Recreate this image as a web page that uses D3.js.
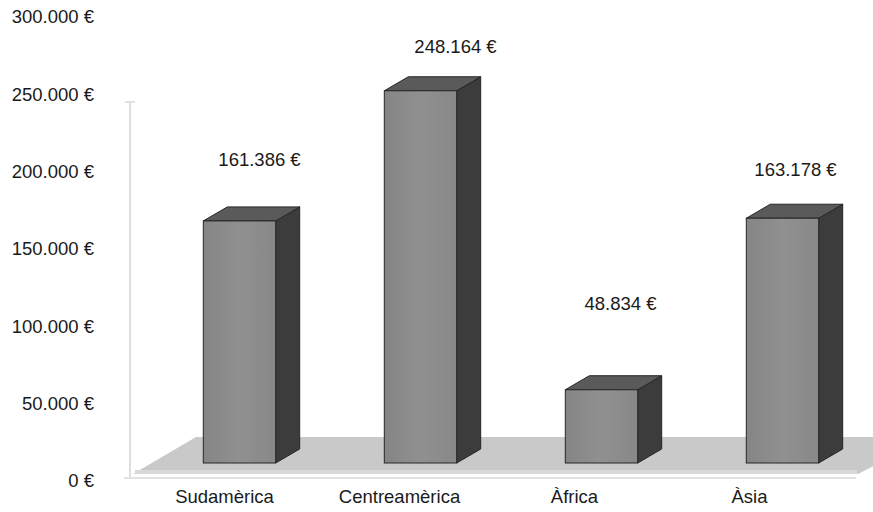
<!DOCTYPE html>
<html>
<head>
<meta charset="utf-8">
<script src="https://cdnjs.cloudflare.com/ajax/libs/d3/7.8.5/d3.min.js"></script>
<style>
  body { margin: 0; background: #fff; }
  svg text { font-family: "Liberation Sans", Arial, sans-serif; }
</style>
</head>
<body>
<div id="chart"></div>
<script>
(function() {
    // Chart data
    const categories = ["Sudamèrica", "Centreamèrica", "Àfrica", "Àsia"];
    const values = [161386, 248164, 48834, 163178];
    const yTicks = [0, 50000, 100000, 150000, 200000, 250000, 300000];

    const width = 873, height = 512;

    const svg = d3.select("#chart")
        .append("svg")
        .attr("width", width)
        .attr("height", height);

    // Spanish/Catalan style number format: 300.000 €
    const locale = d3.formatLocale({ decimal: ",", thousands: ".", grouping: [3], currency: ["", " €"] });
    const fmt = locale.format("$,.0f");

    // Scales: axis labels sit on the front plane, bars on a slightly shorter plane
    const yAxisScale = d3.scaleLinear().domain([0, 300000]).range([481, 17]);
    const yBar = d3.scaleLinear().domain([0, 300000]).range([463, 13]);

    const xBar = d3.scaleBand()
        .domain(categories)
        .range([149, 873])
        .paddingInner(0.6)
        .paddingOuter(0.3);

    const xLabel = d3.scaleBand()
        .domain(categories)
        .range([137, 837]);

    // 3D depth offset of the bars
    const depth = { dx: 24, dy: 14 };

    // Floor
    const floorFront = 474, floorBack = 437;
    svg.append("polygon")
        .attr("points", [[133, floorFront], [858, floorFront], [930, floorBack], [196, floorBack]].join(" "))
        .attr("fill", "#c9c9c9");
    svg.append("line")
        .attr("x1", 135).attr("x2", 857)
        .attr("y1", floorFront - 2).attr("y2", floorFront - 2)
        .attr("stroke", "#d9d9d9")
        .attr("stroke-width", 4);

    // Axis lines (light grey)
    svg.append("line")
        .attr("x1", 130).attr("x2", 130)
        .attr("y1", 102).attr("y2", 478)
        .attr("stroke", "#dedede")
        .attr("stroke-width", 2);
    svg.append("line")
        .attr("x1", 125).attr("x2", 135)
        .attr("y1", 102).attr("y2", 102)
        .attr("stroke", "#e2e2e2")
        .attr("stroke-width", 2);
    svg.append("line")
        .attr("x1", 124).attr("x2", 856)
        .attr("y1", 478).attr("y2", 478)
        .attr("stroke", "#e2e2e2")
        .attr("stroke-width", 2);

    // Y axis labels
    const yAxis = svg.append("g")
        .attr("transform", "translate(94,0)")
        .call(d3.axisLeft(yAxisScale).tickValues(yTicks).tickSize(0).tickFormat(fmt));
    yAxis.select(".domain").remove();
    yAxis.selectAll("text")
        .attr("x", 0)
        .style("font-family", "'Liberation Sans', Arial, sans-serif")
        .style("font-size", "18.5px")
        .attr("fill", "#1a1a1a");

    // X axis labels
    const xAxis = svg.append("g")
        .attr("transform", "translate(0,497)")
        .call(d3.axisBottom(xLabel).tickSize(0));
    xAxis.select(".domain").remove();
    xAxis.selectAll("text")
        .attr("y", 0)
        .attr("dy", "0.35em")
        .style("font-family", "'Liberation Sans', Arial, sans-serif")
        .style("font-size", "18.5px")
        .attr("fill", "#1a1a1a");

    // Gradient for the front face
    const defs = svg.append("defs");
    const grad = defs.append("linearGradient")
        .attr("id", "frontGrad")
        .attr("x1", "0%").attr("x2", "100%");
    grad.append("stop").attr("offset", "0%").attr("stop-color", "#858585");
    grad.append("stop").attr("offset", "50%").attr("stop-color", "#909090");
    grad.append("stop").attr("offset", "100%").attr("stop-color", "#888888");

    const data = categories.map((c, i) => ({ cat: c, value: values[i] }));

    const bars = svg.append("g")
        .selectAll("g")
        .data(data)
        .enter()
        .append("g");

    // Side face
    bars.append("polygon")
        .attr("points", d => {
            const x = xBar(d.cat) + xBar.bandwidth(), top = yBar(d.value), base = yBar(0);
            return [[x, top], [x + depth.dx, top - depth.dy], [x + depth.dx, base - depth.dy], [x, base]].join(" ");
        })
        .attr("fill", "#3c3c3c")
        .attr("stroke", "#262626")
        .attr("stroke-width", 1);

    // Top face
    bars.append("polygon")
        .attr("points", d => {
            const x = xBar(d.cat), w = xBar.bandwidth(), top = yBar(d.value);
            return [[x, top], [x + depth.dx, top - depth.dy], [x + w + depth.dx, top - depth.dy], [x + w, top]].join(" ");
        })
        .attr("fill", "#5a5a5a")
        .attr("stroke", "#262626")
        .attr("stroke-width", 1);

    // Front face
    bars.append("rect")
        .attr("x", d => xBar(d.cat))
        .attr("y", d => yBar(d.value))
        .attr("width", xBar.bandwidth())
        .attr("height", d => yBar(0) - yBar(d.value))
        .attr("fill", "url(#frontGrad)")
        .attr("stroke", "#262626")
        .attr("stroke-width", 1);

    // Value labels, nudged the way the original placed them
    const labelNudge = [[20, -61], [35, -44], [19, -86], [13, -49]];
    svg.append("g")
        .selectAll("text")
        .data(data)
        .enter()
        .append("text")
        .attr("x", (d, i) => xBar(d.cat) + xBar.bandwidth() / 2 + labelNudge[i][0])
        .attr("y", (d, i) => yBar(d.value) + labelNudge[i][1])
        .attr("dy", "0.35em")
        .attr("text-anchor", "middle")
        .style("font-size", "18.5px")
        .attr("fill", "#1a1a1a")
        .text(d => fmt(d.value));
})();
</script>
</body>
</html>
